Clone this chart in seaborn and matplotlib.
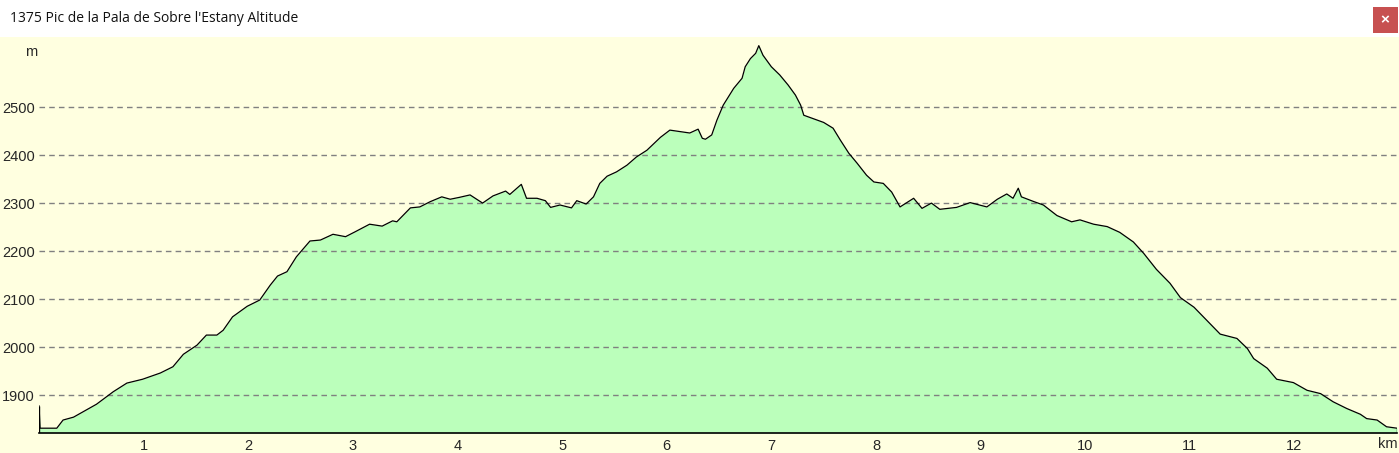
import numpy as np
import pandas as pd
import matplotlib
matplotlib.use("Agg")
import matplotlib.pyplot as plt
import seaborn as sns
from matplotlib.patches import Rectangle

# Profile: distance (km) and altitude (m)
km = [0.00, 0.01, 0.17, 0.23, 0.33, 0.55, 0.71, 0.84, 0.99, 1.16, 1.28, 1.38,
      1.51, 1.60, 1.70, 1.76, 1.85, 1.99, 2.11, 2.21, 2.28, 2.37, 2.46, 2.59,
      2.69, 2.81, 2.93, 3.02, 3.16, 3.28, 3.38, 3.42, 3.55, 3.64, 3.74, 3.85,
      3.93, 4.02, 4.12, 4.24, 4.34, 4.46, 4.50, 4.61, 4.66, 4.76, 4.84, 4.89,
      4.98, 5.09, 5.14, 5.23, 5.30, 5.36, 5.43, 5.52, 5.62, 5.71, 5.81, 5.94,
      6.03, 6.22, 6.30, 6.34, 6.37, 6.43, 6.48, 6.54, 6.64, 6.72, 6.75, 6.80,
      6.85, 6.88, 6.92, 7.00, 7.08, 7.16, 7.23, 7.28, 7.31, 7.40, 7.50, 7.59,
      7.66, 7.74, 7.82, 7.91, 7.98, 8.07, 8.15, 8.23, 8.28, 8.36, 8.44, 8.53,
      8.61, 8.77, 8.90, 9.06, 9.16, 9.25, 9.31, 9.36, 9.39, 9.51, 9.60, 9.73,
      9.87, 9.95, 10.08, 10.21, 10.33, 10.46, 10.56, 10.68, 10.81, 10.91, 11.04,
      11.16, 11.29, 11.45, 11.55, 11.61, 11.74, 11.83, 11.99, 12.12, 12.25,
      12.37, 12.50, 12.63, 12.69, 12.79, 12.88, 12.98]
altitude = [1878, 1831, 1831, 1848, 1854, 1881, 1907, 1925, 1933, 1946, 1959, 1985,
            2004, 2025, 2025, 2035, 2063, 2085, 2098, 2129, 2148, 2157, 2188, 2221,
            2223, 2235, 2230, 2240, 2256, 2252, 2263, 2261, 2290, 2292, 2303, 2313,
            2308, 2312, 2317, 2300, 2315, 2325, 2318, 2339, 2310, 2310, 2305, 2291,
            2296, 2290, 2305, 2298, 2313, 2341, 2356, 2365, 2379, 2396, 2410, 2437,
            2452, 2446, 2454, 2435, 2433, 2442, 2473, 2504, 2539, 2560, 2584, 2601,
            2612, 2628, 2608, 2584, 2567, 2546, 2525, 2504, 2483, 2476, 2468, 2456,
            2431, 2404, 2383, 2358, 2344, 2341, 2323, 2292, 2299, 2310, 2289, 2300,
            2287, 2291, 2301, 2292, 2308, 2319, 2310, 2331, 2313, 2303, 2296, 2274,
            2261, 2265, 2256, 2251, 2239, 2219, 2195, 2162, 2133, 2103, 2083,
            2056, 2027, 2018, 1997, 1976, 1956, 1933, 1926, 1910, 1903,
            1886, 1872, 1860, 1851, 1848, 1834, 1831]

y_ticks = [1900, 2000, 2100, 2200, 2300, 2400, 2500]
x_ticks = [1, 2, 3, 4, 5, 6, 7, 8, 9, 10, 11, 12]
title = "1375 Pic de la Pala de Sobre l'Estany Altitude"

df = pd.DataFrame({"km": km, "altitude": altitude})

sns.set_style("white")
plt.rcParams["font.family"] = ["Liberation Sans", "DejaVu Sans"]

bg = "#FFFFE0"
W, H = 1399, 453
fig = plt.figure(figsize=(W / 100, H / 100), dpi=100, facecolor=bg)

# white title bar with close button
fig.patches.append(Rectangle((0, 1 - 37 / H), 1, 37 / H, transform=fig.transFigure,
                             facecolor="white", edgecolor="none", zorder=0))
fig.patches.append(Rectangle((1373 / W, 1 - 32.5 / H), 24.5 / W, 25.5 / H,
                             transform=fig.transFigure, facecolor="#C75050",
                             edgecolor="none", zorder=1))
fig.text(1385 / W, 1 - 20 / H, "×", color="white", fontsize=11, fontweight="bold",
         ha="center", va="center")
fig.text(10 / W, 1 - 18 / H, title, fontsize=10, ha="left", va="center",
         family=["Open Sans", "DejaVu Sans"], color="#111111")

ax = fig.add_axes([39 / W, 20 / H, (1397 - 39) / W, (433 - 37) / H])
ax.set_facecolor(bg)
ymin, ymax = 1821, 2646

ax.fill_between(df["km"], df["altitude"], ymin, color="#BBFFBB", linewidth=0, zorder=1)
sns.lineplot(data=df, x="km", y="altitude", ax=ax, color="black", linewidth=0.9,
             estimator=None, sort=False, zorder=3)
ax.vlines([km[0], km[-1]], ymin, [altitude[0], altitude[-1]], color="black",
          linewidth=1, zorder=3)

for v in y_ticks:
    ax.axhline(v, color="#808080", linewidth=1, linestyle=(0, (4, 3)), zorder=2)

ax.set_xlim(0, km[-1])
ax.set_ylim(ymin, ymax)
ax.set_xticks(x_ticks)
ax.set_xticklabels([str(t) for t in x_ticks])
ax.set_yticks(y_ticks)
ax.set_yticklabels([str(t) for t in y_ticks])
ax.tick_params(axis="y", length=0, pad=3, labelsize=10.5)
ax.tick_params(axis="x", direction="inout", length=5, width=1, color="#1030D0",
               pad=2, labelsize=10.5)
ax.set_xlabel("")
ax.set_ylabel("")

for s in ["left", "right", "top"]:
    ax.spines[s].set_visible(False)
ax.spines["bottom"].set_color("black")
ax.spines["bottom"].set_linewidth(1.2)
ax.spines["bottom"].set_zorder(4)

fig.text(31 / W, 1 - 52 / H, "m", fontsize=10.5, ha="center", va="center")
fig.text(1388 / W, 1 - 444 / H, "km", fontsize=10.5, ha="center", va="center")

fig.savefig("out.png", dpi=100, facecolor=bg)
